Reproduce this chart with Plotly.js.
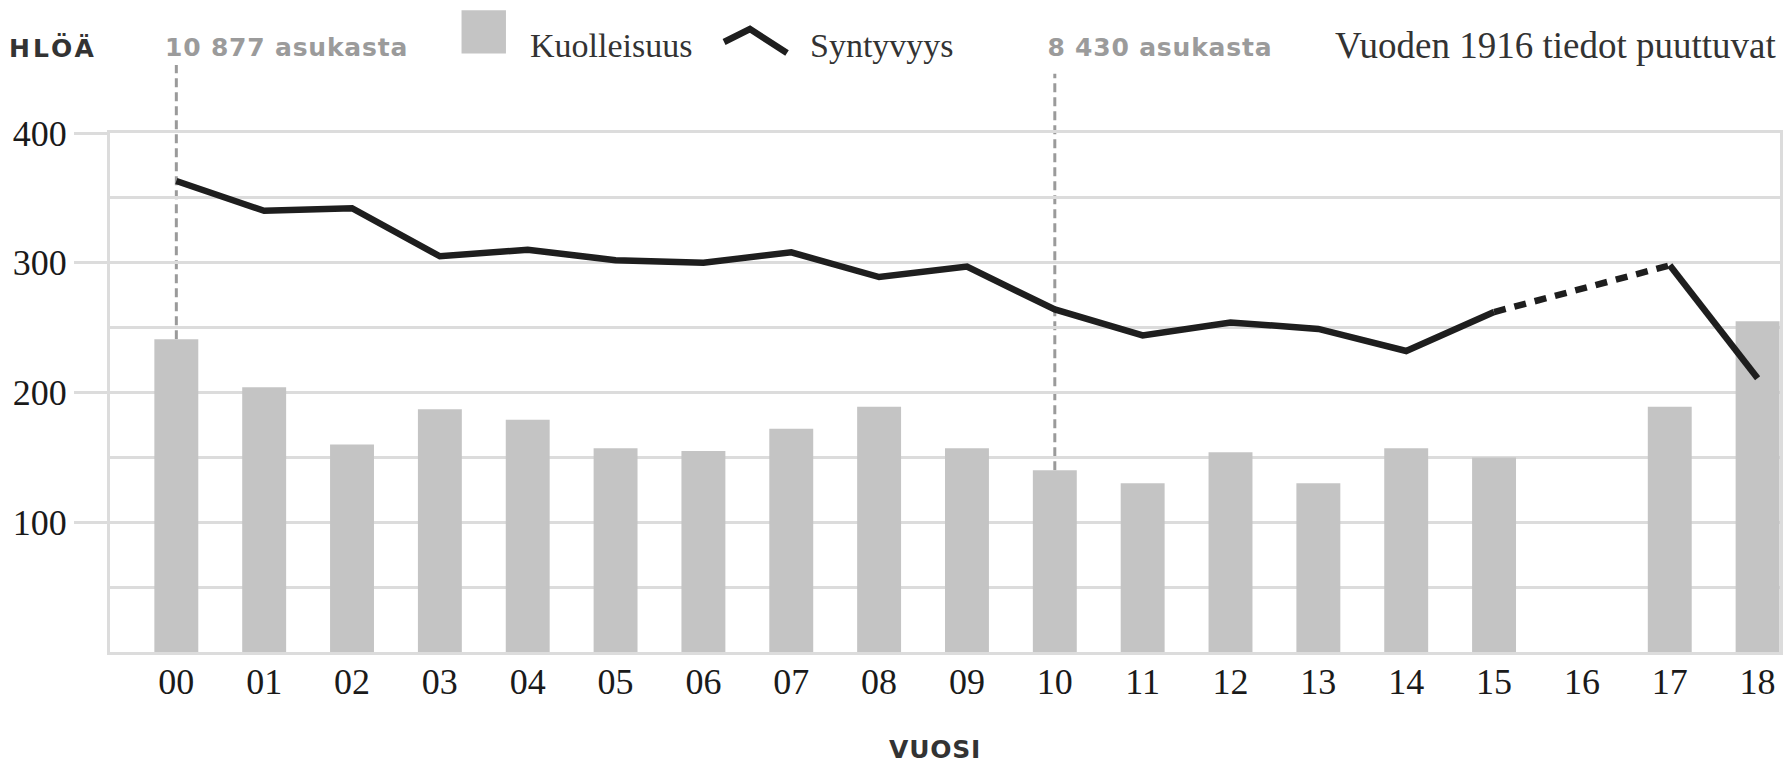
<!DOCTYPE html>
<html>
<head>
<meta charset="utf-8">
<script src="https://cdn.plot.ly/plotly-3.0.1.min.js"></script>
<style>
  html, body { margin: 0; padding: 0; background: #fff; }
  #chart { width: 1787px; height: 765px; }
  .sans-spaced text { letter-spacing: 0.8px; }
  .sans-wide text { letter-spacing: 3px; }
</style>
</head>
<body>
<div id="chart"></div>
<script>
// ---- data ----
const years = ['00','01','02','03','04','05','06','07','08','09','10','11','12','13','14','15','16','17','18'];
const deaths = [241, 204, 160, 187, 179, 157, 155, 172, 189, 157, 140, 130, 154, 130, 157, 150, null, 189, 255];
const births = [363, 340, 342, 305, 310, 302, 300, 308, 289, 297, 264, 244, 254, 249, 232, 262, null, 298, 211];
const yTickVals = [100, 200, 300, 400];
const yTickText = ['100', '200', '300', '400'];
const populationNotes = [
  { year: '00', text: '10 877 asukasta' },
  { year: '10', text: '8 430 asukasta' }
];
const legendDeaths = 'Kuolleisuus';
const legendBirths = 'Syntyvyys';
const missingNote = 'Vuoden 1916 tiedot puuttuvat';
const yTitle = 'HLÖÄ';
const xTitle = 'VUOSI';

// ---- derived ----
const xIdx = years.map((_, i) => i);
const yMax = 400;
const missingIdx = births.findIndex(v => v === null);
const bridgeX = [missingIdx - 1, missingIdx + 1];
const bridgeY = bridgeX.map(i => births[i]);

const serif = 'Liberation Serif, serif';
const sans = 'DejaVu Sans, sans-serif';
const gridCol = '#dcdcdc';
const barCol = '#c4c4c4';
const lineCol = '#1e1e1e';
const noteCol = '#9b9b9b';
const darkText = '#333333';
const tickText = '#1a1a1a';

const traces = [
  {
    type: 'bar', x: xIdx, y: deaths, width: 0.5,
    marker: { color: barCol, line: { width: 0 } },
    name: legendDeaths, hoverinfo: 'skip'
  },
  {
    type: 'scatter', mode: 'lines', x: xIdx, y: births,
    line: { color: lineCol, width: 6.5 }, connectgaps: false,
    name: legendBirths, hoverinfo: 'skip'
  },
  {
    type: 'scatter', mode: 'lines', x: bridgeX, y: bridgeY,
    line: { color: lineCol, width: 6.5, dash: '12px,9px' },
    showlegend: false, hoverinfo: 'skip'
  }
];

const noteTops = [1.131, 1.114];
const shapes = populationNotes.map((n, k) => {
  const i = years.indexOf(n.year);
  return {
    type: 'line', layer: 'below', xref: 'x', yref: 'paper',
    x0: i, x1: i, y0: deaths[i] / yMax, y1: noteTops[k],
    line: { color: '#9a9a9a', width: 3, dash: '9px,5px' }
  };
});
// manual legend: grey square and chevron line icon
shapes.push({
  type: 'rect', xref: 'paper', yref: 'paper',
  x0: 0.2105, x1: 0.2371, y0: 1.153, y1: 1.2364,
  fillcolor: barCol, line: { width: 0 }
});
shapes.push({
  type: 'path', xref: 'paper', yref: 'paper',
  path: 'M 0.3677 1.1753 L 0.3832 1.2004 L 0.4054 1.1541',
  line: { color: lineCol, width: 6.5 }
});

const annotations = [
  { text: yTitle, xref: 'paper', yref: 'paper', x: -0.0341, y: 1.1638, xanchor: 'center', yanchor: 'middle',
    showarrow: false, font: { family: sans, size: 25, color: darkText, weight: 'bold' } },
  { text: populationNotes[0].text, xref: 'paper', yref: 'paper', x: 0.1054, y: 1.1638, xanchor: 'center', yanchor: 'middle',
    showarrow: false, font: { family: sans, size: 25, color: noteCol, weight: 'bold' } },
  { text: legendDeaths, xref: 'paper', yref: 'paper', x: 0.2503, y: 1.168, xanchor: 'left', yanchor: 'middle',
    showarrow: false, font: { family: serif, size: 34, color: darkText } },
  { text: legendBirths, xref: 'paper', yref: 'paper', x: 0.418, y: 1.168, xanchor: 'left', yanchor: 'middle',
    showarrow: false, font: { family: serif, size: 34, color: darkText } },
  { text: populationNotes[1].text, xref: 'paper', yref: 'paper', x: 0.6286, y: 1.1638, xanchor: 'center', yanchor: 'middle',
    showarrow: false, font: { family: sans, size: 25, color: noteCol, weight: 'bold' } },
  { text: missingNote, xref: 'paper', yref: 'paper', x: 0.9988, y: 1.168, xanchor: 'right', yanchor: 'middle',
    showarrow: false, font: { family: serif, size: 37, color: darkText } },
  { text: xTitle, xref: 'paper', yref: 'paper', x: 0.494, y: -0.1875, xanchor: 'center', yanchor: 'middle',
    borderpad: 0, showarrow: false, font: { family: sans, size: 25, color: darkText, weight: 'bold' } }
];

const layout = {
  width: 1787, height: 765,
  margin: { l: 110, r: 7, t: 133, b: 113, pad: 0 },
  paper_bgcolor: '#ffffff', plot_bgcolor: '#ffffff',
  showlegend: false,
  bargap: 0.5,
  xaxis: {
    range: [-0.755, 18.255], tickmode: 'array', tickvals: xIdx, ticktext: years,
    showgrid: false, zeroline: false, ticks: '',
    showline: true, linecolor: gridCol, linewidth: 3, mirror: true,
    tickfont: { family: serif, size: 36, color: tickText }, ticklabelstandoff: -4,
    fixedrange: true
  },
  yaxis: {
    range: [0, yMax], tickmode: 'array', tickvals: yTickVals, ticktext: yTickText,
    showgrid: true, gridcolor: gridCol, gridwidth: 3, zeroline: false,
    ticks: 'outside', ticklen: 33, tickwidth: 3, tickcolor: gridCol,
    showline: true, linecolor: gridCol, linewidth: 3, mirror: true,
    minor: { dtick: 50, tick0: 0, showgrid: true, gridcolor: gridCol, gridwidth: 3, ticks: '' },
    tickfont: { family: serif, size: 36, color: tickText },
    fixedrange: true
  },
  shapes: shapes,
  annotations: annotations
};

Plotly.newPlot('chart', traces, layout, { staticPlot: true, displayModeBar: false }).then(() => {
  document.querySelectorAll('g.annotation').forEach(g => {
    const idx = g.getAttribute('data-index');
    if (idx === '0') g.classList.add('sans-wide');
    if (['1', '4', '6'].includes(idx)) g.classList.add('sans-spaced');
  });
});
</script>
</body>
</html>
